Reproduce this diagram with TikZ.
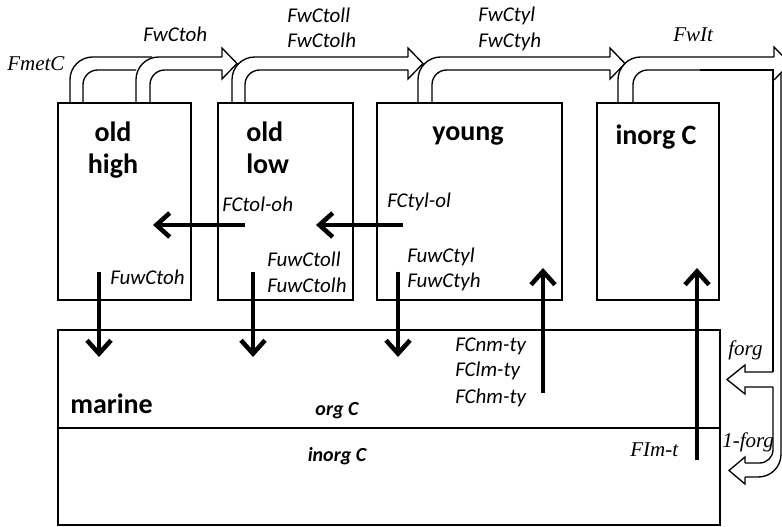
\documentclass[tikz,border=0pt]{standalone}
\usepackage{fontspec}
\newfontfamily\calfont{Carlito}
\newfontfamily\timesfont{Liberation Serif}
\usetikzlibrary{arrows.meta,fit}
\begin{document}
\begin{tikzpicture}[x=0.75pt,y=-0.75pt,
  box/.style={draw,line width=1.9pt,inner sep=0pt},
  pipe/.style={line width=1pt},
  flux/.style={line width=3.4pt,-{Straight Barb[length=10pt,width=18pt]}},
  lab/.style={font=\calfont\itshape\fontsize{15.75pt}{18pt}\selectfont,anchor=base west,inner sep=0pt},
  tlab/.style={font=\timesfont\itshape\fontsize{15.75pt}{18pt}\selectfont,anchor=base west,inner sep=0pt},
  title/.style={font=\calfont\bfseries\fontsize{21pt}{25pt}\selectfont,inner sep=0pt},
  sub/.style={font=\calfont\bfseries\itshape\fontsize{15pt}{18pt}\selectfont,inner sep=0pt,anchor=base}]
\useasboundingbox (0,0) rectangle (782,527);

% reservoirs
\node[box,fit={(58,103) (191,300)}] (oh) {};
\node[box,fit={(218,103) (353,300)}] (ol) {};
\node[box,fit={(377,103) (562,300)}] (yg) {};
\node[box,fit={(597,103) (719,300)}] (ic) {};
\node[box,fit={(58,330) (720,525)}] (mar) {};
\draw[line width=1.1pt] (mar.west |- 0,428) -- (mar.east |- 0,428);

% weathering pipes along the top
\draw[pipe,rounded corners=17] (70,103) -- (70,57) -- (152,57);
\draw[pipe,rounded corners=11] (83,103) -- (83,70) -- (136,70);

\draw[pipe,rounded corners=17] (136,103) -- (136,57) -- (222,57);
\draw[pipe,rounded corners=11] (150,103) -- (150,70) -- (222,70);
\draw[pipe] (222,57) -- (222,48) -- (237,63.5) -- (222,79) -- (222,70);

\draw[pipe,rounded corners=17] (232,103) -- (232,57) -- (408,57);
\draw[pipe,rounded corners=11] (245,103) -- (245,70) -- (408,70);
\draw[pipe] (408,57) -- (408,48) -- (423,63.5) -- (408,79) -- (408,70);

\draw[pipe,rounded corners=17] (418,103) -- (418,57) -- (610,57);
\draw[pipe,rounded corners=11] (432,103) -- (432,70) -- (610,70);
\draw[pipe] (610,57) -- (610,48) -- (625,63.5) -- (610,79) -- (610,70);

\draw[pipe,rounded corners=17] (618,103) -- (618,57) -- (774,57);
\draw[pipe,rounded corners=11] (633,103) -- (633,70) -- (700,70);
\draw[pipe] (774,57) -- (774,47) -- (790,63.5) -- (774,80);
\draw[pipe] (700,70) -- (773,70) -- (773,372);

% return pipe on the right, split into forg and 1-forg
\draw[pipe] (773,372) -- (745,372) -- (745,365) -- (727,379.5) -- (745,394) -- (745,387) -- (773,387);
\draw[pipe,rounded corners=10] (773,387) -- (773,463) -- (745,463);
\draw[pipe] (745,463) -- (745,457) -- (729,470.5) -- (745,484) -- (745,477);
\draw[pipe,rounded corners=17] (745,477) -- (781,477) -- (781,72.8);

% internal fluxes
\coordinate (ohD) at (99,272);  \coordinate (ohM) at (99,357);
\coordinate (olD) at (253,272); \coordinate (olM) at (253,357);
\coordinate (ygD) at (398,272); \coordinate (ygM) at (398,357);
\coordinate (mY) at (543,393);  \coordinate (yU) at (543,268);
\coordinate (mI) at (697,460);  \coordinate (iU) at (697,268);
\coordinate (olL) at (245,225); \coordinate (ohR) at (153,225);
\coordinate (ygL) at (403,225); \coordinate (olR) at (316,225);
\draw[flux] (ohD) -- (ohM);
\draw[flux] (olD) -- (olM);
\draw[flux] (ygD) -- (ygM);
\draw[flux] (mY) -- (yU);
\draw[flux] (mI) -- (iU);
\draw[flux] (olL) -- (ohR);
\draw[flux] (ygL) -- (olR);

% reservoir names
\node[title,anchor=base] (t1) at (113,142) {old};
\node[title,anchor=base] (t2) at (113,174) {high};
\node[title,anchor=base west] (t3) at (246,142) {old};
\node[title,anchor=base west] (t4) at (246,174) {low};
\node[title,anchor=base] (t5) at (468,141) {young};
\node[title,anchor=base] (t6) at (656,145) {inorg C};
\node[title,anchor=base west] (t7) at (70,413) {marine};
\node[sub] (s1) at (337,415) {org C};
\node[sub] (s2) at (337,461) {inorg C};

% flux labels
\node[tlab] (l1) at (7,71) {FmetC};
\node[lab] (l2) at (143,42) {FwCtoh};
\node[lab] (l3) at (287,23) {FwCtoll};
\node[lab] (l4) at (287,48) {FwCtolh};
\node[lab] (l5) at (478,22) {FwCtyl};
\node[lab] (l6) at (478,48) {FwCtyh};
\node[tlab] (l7) at (673,42) {FwIt};
\node[lab] (l8) at (222,212) {FCtol-oh};
\node[lab] (l9) at (110,285) {FuwCtoh};
\node[lab] (l10) at (267,267) {FuwCtoll};
\node[lab] (l11) at (267,293) {FuwCtolh};
\node[lab] (l12) at (387,208) {FCtyl-ol};
\node[lab] (l13) at (407,263) {FuwCtyl};
\node[lab] (l14) at (407,288) {FuwCtyh};
\node[lab] (l15) at (455,352) {FCnm-ty};
\node[lab] (l16) at (455,377) {FClm-ty};
\node[lab] (l17) at (455,403) {FChm-ty};
\node[tlab] (l18) at (630,456) {FIm-t};
\node[tlab] (l19) at (728,355) {forg};
\node[tlab] (l20) at (722,447) {1-forg};
\end{tikzpicture}
\end{document}
